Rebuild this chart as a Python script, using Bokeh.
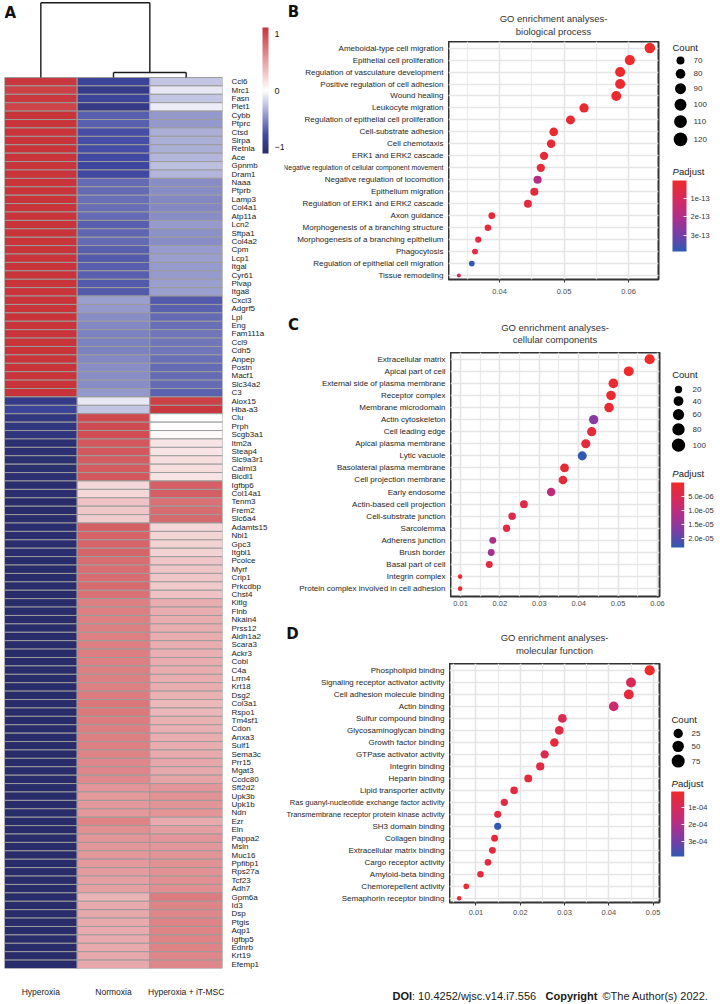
import math
from bokeh.plotting import figure
from bokeh.models import (ColumnDataSource, LinearColorMapper, ColorBar, FixedTicker, Range1d,
                          Label, PrintfTickFormatter, LinearAxis, Grid, AllLabels)
from bokeh.layouts import row, column
from bokeh.transform import transform
from bokeh.embed import file_html
from bokeh.resources import INLINE
from bokeh.core.properties import value

SANS = "Liberation Sans"
LETTER_FONT = "DejaVu Sans"

# ------------------------------------------------------------------ panel A data
samples = ["Hyperoxia", "Normoxia", "Hyperoxia + iT-MSC"]
genes = ["Ccl6", "Mrc1", "Fasn", "Plet1", "Cybb", "Ptprc", "Ctsd", "Sirpa", "Retnla", "Ace",
         "Gpnmb", "Dram1", "Naaa", "Ptprb", "Lamp3", "Col4a1", "Atp11a", "Lcn2", "Sftpa1", "Col4a2",
         "Cpm", "Lcp1", "Itgal", "Cyr61", "Plvap", "Itga8", "Cxcl3", "Adgrf5", "Lpl", "Eng",
         "Fam111a", "Ccl9", "Cdh5", "Anpep", "Postn", "Macf1", "Slc34a2", "C3", "Alox15", "Hba-a3",
         "Clu", "Prph", "Scgb3a1", "Itm2a", "Steap4", "Slc9a3r1", "Calml3", "Bicdl1", "Igfbp6", "Col14a1",
         "Tenm3", "Frem2", "Slc6a4", "Adamts15", "Nbl1", "Gpc3", "Itgbl1", "Pcolce", "Myrf", "Crip1",
         "Prkcdbp", "Chst4", "Kitlg", "Flnb", "Nkain4", "Prss12", "Aldh1a2", "Scara3", "Ackr3", "Cobl",
         "C4a", "Lrrn4", "Krt18", "Dsg2", "Col3a1", "Rspo1", "Tm4sf1", "Cdon", "Anxa3", "Sulf1",
         "Sema3c", "Prr15", "Mgat3", "Ccdc80", "Sft2d2", "Upk3b", "Upk1b", "Ndn", "Ezr", "Eln",
         "Pappa2", "Msln", "Muc16", "Ppfibp1", "Rps27a", "Tcf23", "Adh7", "Gpm6a", "Id3", "Dsp",
         "Ptgis", "Aqp1", "Igfbp5", "Ednrb", "Krt19", "Efemp1"]
z_hyperoxia = [1.10, 1.05, 1.10, 1.04, 1.15, 1.15, 1.13, 1.13, 1.13, 1.12,
               1.11, 1.12, 1.15, 1.15, 1.15, 1.15, 1.15, 1.14, 1.15, 1.15,
               1.14, 1.14, 1.14, 1.14, 1.14, 1.14, 1.14, 1.14, 1.15, 1.15,
               1.15, 1.15, 1.15, 1.15, 1.15, 1.15, 1.15, 1.14, -0.95, -0.85,
               -1.00, -1.00, -1.01, -1.07, -1.07, -1.08, -1.08, -1.07, -1.10, -1.10,
               -1.12, -1.12, -1.11, -1.10, -1.10, -1.10, -1.10, -1.12, -1.12, -1.12,
               -1.12, -1.12, -1.15, -1.15, -1.15, -1.15, -1.15, -1.15, -1.15, -1.15,
               -1.15, -1.15, -1.15, -1.15, -1.14, -1.14, -1.15, -1.15, -1.15, -1.15,
               -1.15, -1.15, -1.15, -1.15, -1.155, -1.155, -1.155, -1.155, -1.15, -1.15,
               -1.155, -1.155, -1.155, -1.155, -1.15, -1.15, -1.15, -1.14, -1.15, -1.15,
               -1.15, -1.15, -1.15, -1.15, -1.15, -1.15]
z_normoxia = [-0.85, -0.95, -0.85, -0.96, -0.70, -0.70, -0.78, -0.78, -0.78, -0.80,
              -0.83, -0.80, -0.65, -0.65, -0.63, -0.63, -0.65, -0.70, -0.67, -0.65,
              -0.70, -0.72, -0.70, -0.70, -0.72, -0.72, -0.42, -0.45, -0.50, -0.52,
              -0.55, -0.55, -0.55, -0.52, -0.50, -0.50, -0.50, -0.45, -0.10, -0.25,
              1.00, 0.99, 0.98, 0.92, 0.92, 0.90, 0.90, 0.92, 0.22, 0.22,
              0.33, 0.31, 0.28, 0.88, 0.86, 0.85, 0.85, 0.80, 0.80, 0.80,
              0.82, 0.78, 0.70, 0.70, 0.70, 0.70, 0.70, 0.70, 0.71, 0.70,
              0.70, 0.70, 0.70, 0.72, 0.75, 0.74, 0.72, 0.71, 0.70, 0.70,
              0.68, 0.66, 0.67, 0.65, 0.58, 0.56, 0.57, 0.57, 0.68, 0.62,
              0.58, 0.58, 0.57, 0.56, 0.55, 0.53, 0.53, 0.42, 0.47, 0.48,
              0.47, 0.47, 0.47, 0.47, 0.48, 0.48]
z_itmsc = [-0.25, -0.10, -0.25, -0.08, -0.45, -0.45, -0.35, -0.35, -0.35, -0.32,
           -0.28, -0.32, -0.50, -0.50, -0.52, -0.52, -0.50, -0.44, -0.48, -0.50,
           -0.44, -0.42, -0.44, -0.44, -0.42, -0.42, -0.72, -0.69, -0.65, -0.63,
           -0.60, -0.60, -0.60, -0.63, -0.65, -0.65, -0.65, -0.69, 1.05, 1.10,
           0.00, 0.01, 0.03, 0.15, 0.15, 0.18, 0.18, 0.15, 0.88, 0.88,
           0.79, 0.81, 0.83, 0.22, 0.24, 0.25, 0.25, 0.32, 0.32, 0.32,
           0.30, 0.34, 0.45, 0.45, 0.45, 0.45, 0.45, 0.45, 0.44, 0.45,
           0.45, 0.45, 0.45, 0.43, 0.39, 0.40, 0.43, 0.44, 0.45, 0.45,
           0.47, 0.49, 0.48, 0.50, 0.575, 0.595, 0.585, 0.585, 0.47, 0.53,
           0.575, 0.575, 0.585, 0.595, 0.60, 0.62, 0.62, 0.72, 0.68, 0.67,
           0.68, 0.68, 0.68, 0.68, 0.67, 0.67]
dend_merge_nt = 0.6      # Normoxia / Hyperoxia + iT-MSC merge height (row units)
dend_merge_root = 8.9    # root merge height (row units)
heat_ticks = [-1, 0, 1]

# ------------------------------------------------------------------ panel B data
bp_terms = ["Ameboidal-type cell migration", "Epithelial cell proliferation",
            "Regulation of vasculature development", "Positive regulation of cell adhesion",
            "Wound healing", "Leukocyte migration", "Regulation of epithelial cell proliferation",
            "Cell-substrate adhesion", "Cell chemotaxis", "ERK1 and ERK2 cascade",
            "Negative regulation of cellular component movement", "Negative regulation of locomotion",
            "Epithelium migration", "Regulation of ERK1 and ERK2 cascade", "Axon guidance",
            "Morphogenesis of a branching structure", "Morphogenesis of a branching epithelium",
            "Phagocytosis", "Regulation of epithelial cell migration", "Tissue remodeling"]
bp_ratio = [0.0633, 0.0602, 0.0587, 0.0587, 0.0581, 0.0531, 0.0510, 0.0484, 0.0480, 0.0469,
            0.0464, 0.0459, 0.0454, 0.0444, 0.0388, 0.0382, 0.0367, 0.0362, 0.0357, 0.0337]
bp_count = [120, 114, 111, 111, 110, 101, 97, 92, 91, 89, 88, 87, 86, 84, 74, 72, 70, 69, 68, 64]
bp_padj = [2.0e-15, 2.5e-15, 8e-15, 1.0e-14, 1.0e-14, 1.5e-14, 2.0e-14, 1.5e-14, 2.5e-14, 3.0e-14,
           3.5e-14, 1.8e-13, 4.0e-14, 4.5e-14, 3.0e-14, 3.0e-14, 5.0e-14, 5.0e-14, 3.9e-13, 8.0e-14]
bp_count_breaks = [70, 80, 90, 100, 110, 120]
bp_padj_breaks = [1e-13, 2e-13, 3e-13]
bp_padj_labels = ["1e-13", "2e-13", "3e-13"]
bp_xticks = [0.04, 0.05, 0.06]
bp_xminor = [0.035, 0.045, 0.055, 0.065]

# ------------------------------------------------------------------ panel C data
cc_terms = ["Extracellular matrix", "Apical part of cell", "External side of plasma membrane",
            "Receptor complex", "Membrane microdomain", "Actin cytoskeleton", "Cell leading edge",
            "Apical plasma membrane", "Lytic vacuole", "Basolateral plasma membrane",
            "Cell projection membrane", "Early endosome", "Actin-based cell projection",
            "Cell-substrate junction", "Sarcolemma", "Adherens junction", "Brush border",
            "Basal part of cell", "Integrin complex", "Protein complex involved in cell adhesion"]
cc_ratio = [0.0580, 0.0527, 0.0488, 0.0482, 0.0477, 0.0438, 0.0433, 0.0418, 0.0409, 0.0364,
            0.0360, 0.0330, 0.0261, 0.0231, 0.0217, 0.0182, 0.0178, 0.0173, 0.0099, 0.0099]
cc_count = [100, 91, 84, 83, 82, 75, 75, 72, 70, 63, 62, 57, 45, 40, 37, 31, 31, 30, 17, 17]
cc_padj = [1.5e-7, 3e-7, 1.0e-6, 1.0e-6, 1.5e-6, 1.6e-5, 2.0e-6, 2.5e-6, 2.32e-5, 1.5e-6,
           2.0e-6, 1.0e-5, 4.0e-6, 4.5e-6, 3.5e-6, 1.25e-5, 1.3e-5, 3.0e-6, 1.0e-6, 1.0e-6]
cc_count_breaks = [20, 40, 60, 80, 100]
cc_padj_breaks = [5e-6, 1e-5, 1.5e-5, 2e-5]
cc_padj_labels = ["5.0e-06", "1.0e-05", "1.5e-05", "2.0e-05"]
cc_xticks = [0.01, 0.02, 0.03, 0.04, 0.05, 0.06]
cc_xminor = [0.015, 0.025, 0.035, 0.045, 0.055]

# ------------------------------------------------------------------ panel D data
mf_terms = ["Phospholipid binding", "Signaling receptor activator activity",
            "Cell adhesion molecule binding", "Actin binding", "Sulfur compound binding",
            "Glycosaminoglycan binding", "Growth factor binding", "GTPase activator activity",
            "Integrin binding", "Heparin binding", "Lipid transporter activity",
            "Ras guanyl-nucleotide exchange factor activity",
            "Transmembrane receptor protein kinase activity", "SH3 domain binding",
            "Collagen binding", "Extracellular matrix binding", "Cargo receptor activity",
            "Amyloid-beta binding", "Chemorepellent activity", "Semaphorin receptor binding"]
mf_ratio = [0.0492, 0.0450, 0.0445, 0.0411, 0.0295, 0.0288, 0.0277, 0.0255, 0.0245, 0.0218,
            0.0186, 0.0164, 0.0149, 0.0149, 0.0142, 0.0137, 0.0127, 0.0110, 0.0078, 0.0062]
mf_count = [80, 73, 72, 67, 48, 47, 45, 41, 40, 35, 30, 27, 24, 24, 23, 22, 21, 18, 13, 10]
mf_padj = [5e-6, 1.0e-4, 4e-5, 1.4e-4, 9e-5, 6e-5, 4e-5, 8e-5, 6e-5, 4e-5,
           5e-5, 6e-5, 5e-5, 3.9e-4, 4e-5, 4e-5, 5e-5, 4e-5, 2e-5, 3e-5]
mf_count_breaks = [25, 50, 75]
mf_padj_breaks = [1e-4, 2e-4, 3e-4]
mf_padj_labels = ["1e-04", "2e-04", "3e-04"]
mf_xticks = [0.01, 0.02, 0.03, 0.04, 0.05]
mf_xminor = [0.005, 0.015, 0.025, 0.035, 0.045]


# ------------------------------------------------------------------ helpers
def hex_rgb(s):
    return tuple(int(s[i:i + 2], 16) for i in (1, 3, 5))


def stops_palette(stops, lo, hi, n):
    out = []
    for k in range(n):
        v = lo + (hi - lo) * k / (n - 1)
        for (v0, c0), (v1, c1) in zip(stops[:-1], stops[1:]):
            if v <= v1 or (v1, c1) == stops[-1]:
                f = min(max((v - v0) / (v1 - v0), 0), 1)
                a, b = hex_rgb(c0), hex_rgb(c1)
                out.append("#%02x%02x%02x" % tuple(round(a[j] + (b[j] - a[j]) * f) for j in range(3)))
                break
    return out


HEAT_LO, HEAT_HI = -1.12, 1.12
heat_palette = stops_palette([(-1.12, "#282C6A"), (-0.8, "#4048A2"), (0.0, "#FFFFFF"),
                              (1.12, "#C8343A")], HEAT_LO, HEAT_HI, 225)
padj_palette = stops_palette([(0.0, "#EE2A2A"), (0.25, "#D9295A"), (0.5, "#B22E88"),
                              (0.75, "#7A3EA6"), (1.0, "#2F59B2")], 0.0, 1.0, 256)


def size_scale(counts, dmin, dmax):
    lo, hi = min(counts), max(counts)
    return lambda c: dmin + (dmax - dmin) * math.sqrt(max(c - lo, 0) / (hi - lo))


def bare(fig):
    fig.outline_line_color = None
    fig.grid.visible = False
    fig.background_fill_color = "white"
    fig.border_fill_color = "white"
    return fig


# ------------------------------------------------------------------ panel A (heatmap)
n = len(genes)
row_px = 891 / n
hm = bare(figure(width=284, height=1004, x_range=Range1d(0, len(samples)),
                 y_range=Range1d(0, n + 77 / row_px),
                 x_axis_location=None, y_axis_location=None,
                 min_border_left=4, min_border_right=62, min_border_top=0, min_border_bottom=36,
                 output_backend="svg", toolbar_location=None))

heat_mapper = LinearColorMapper(palette=heat_palette, low=HEAT_LO, high=HEAT_HI)
cx, cy, cz = [], [], []
for j, col in enumerate([z_hyperoxia, z_normoxia, z_itmsc]):
    for i, v in enumerate(col):
        cx.append(j + 0.5)
        cy.append(n - i - 0.5)
        cz.append(v)
hm.rect(x="x", y="y", width=1, height=1, source=ColumnDataSource(dict(x=cx, y=cy, z=cz)),
        fill_color=transform("z", heat_mapper), line_color="#9c9c9c", line_width=1)

lx = [j + 0.5 for j in range(len(samples))]
mid_nt = (lx[1] + lx[2]) / 2
x0s = [lx[1], lx[2], lx[1], lx[0], mid_nt, lx[0]]
y0s = [n, n, n + dend_merge_nt, n, n + dend_merge_nt, n + dend_merge_root]
x1s = [lx[1], lx[2], lx[2], lx[0], mid_nt, mid_nt]
y1s = [n + dend_merge_nt, n + dend_merge_nt, n + dend_merge_nt, n + dend_merge_root,
       n + dend_merge_root, n + dend_merge_root]
hm.segment(x0=x0s, y0=y0s, x1=x1s, y1=y1s, line_color="#1a1a1a", line_width=1.4)

gene_ticks = [n - i - 0.5 for i in range(n)]
gax = LinearAxis(ticker=FixedTicker(ticks=gene_ticks),
                 major_label_overrides={t: g for t, g in zip(gene_ticks, genes)})
gax.axis_line_color = None
gax.major_tick_line_color = None
gax.minor_tick_line_color = None
gax.major_label_standoff = 3
gax.major_label_text_font = SANS
gax.major_label_text_font_size = "8px"
gax.major_label_text_color = "#1a1a1a"
hm.add_layout(gax, "right")

sax = LinearAxis(ticker=FixedTicker(ticks=lx),
                 major_label_overrides={t: s for t, s in zip(lx, samples)})
sax.axis_line_color = None
sax.major_tick_line_color = None
sax.minor_tick_line_color = None
sax.major_label_standoff = 12
sax.major_label_text_font = SANS
sax.major_label_text_font_size = "8.5px"
sax.major_label_text_color = "#1a1a1a"
hm.add_layout(sax, "below")

hcb = ColorBar(color_mapper=heat_mapper, location=(258, 815), width=6, height=126, padding=0,
               ticker=FixedTicker(ticks=heat_ticks), label_standoff=6,
               major_label_policy=AllLabels(),
               major_label_text_font=SANS, major_label_text_font_size="9px",
               major_label_text_color="#1a1a1a", major_tick_line_color=None,
               bar_line_color=None, border_line_color=None, background_fill_alpha=0)
hm.add_layout(hcb, "center")
hm.add_layout(Label(x=0, y=956, x_units="screen", y_units="screen", text="A",
                    text_font=LETTER_FONT, text_font_style="bold", text_font_size="15px",
                    text_baseline="middle", text_align="left", text_color="#111111"))

RIGHT_W = 436


# ------------------------------------------------------------------ panels B-D
def panel(terms, ratio, count, padj, xticks, xminor, title, letter, count_breaks,
          pbreaks, plabels, *, x_range, y_range, head_h, height, bb, label_w, plot_w, frame_r,
          dsize, title_y, letter_xy, tick_out, xlab_standoff, leg):
    k = len(terms)
    yv = [k - 1 - i for i in range(k)]
    yr = Range1d(*y_range)
    frame_h = height - bb
    mapper = LinearColorMapper(palette=padj_palette, low=min(padj), high=max(padj))
    sfun = size_scale(count, *dsize)
    common = dict(height=height, min_border_top=0, min_border_bottom=bb,
                  output_backend="svg", toolbar_location=None)

    # --- header strip: panel letter and two-line title (y = px from the top)
    head = bare(figure(width=RIGHT_W, height=head_h, x_range=Range1d(0, RIGHT_W),
                       y_range=Range1d(head_h, 0), x_axis_location=None, y_axis_location=None,
                       min_border=0, output_backend="svg", toolbar_location=None))
    head.text(x=[letter_xy[0]], y=[letter_xy[1]], text=[letter], text_font=value(LETTER_FONT),
              text_font_size="15px", text_font_style="bold", text_align="center",
              text_baseline="middle", text_color="#111111")
    title_x = label_w + (plot_w - frame_r) / 2
    head.text(x=[title_x] * 2, y=list(title_y), text=title.split("\n"), text_font=value(SANS),
              text_font_size="9.5px", text_align="center", text_baseline="middle",
              text_color="#333333")

    # --- term labels (own figure, sharing the y range of the dot plot)
    lab = bare(figure(width=label_w, x_range=Range1d(0, label_w), y_range=yr,
                      x_axis_location=None, y_axis_location=None,
                      min_border_left=0, min_border_right=0, **common))
    avail = label_w - 6
    fs = ["%.2fpx" % min(8.0, avail / (0.46 * len(t))) for t in terms]
    lab.text(x=[label_w - 5] * k, y=yv, text=terms, text_font=value(SANS),
             text_font_size=fs, text_align="right", text_baseline="middle",
             text_color="#262626")

    # --- dot plot
    p = figure(width=plot_w, x_range=Range1d(*x_range), y_range=yr,
               y_axis_location=None, min_border_left=0, min_border_right=frame_r, **common)
    p.outline_line_color = "#333333"
    p.outline_line_width = 2
    p.background_fill_color = "white"

    p.xaxis.ticker = FixedTicker(ticks=xticks, minor_ticks=xminor)
    p.xaxis.formatter = PrintfTickFormatter(format="%.2f")
    p.xaxis.axis_line_color = None
    p.xaxis.major_tick_line_color = "#333333"
    p.xaxis.major_tick_out = tick_out
    p.xaxis.major_tick_in = 0
    p.xaxis.minor_tick_line_color = None
    p.xaxis.major_label_standoff = xlab_standoff
    p.xaxis.major_label_text_font = SANS
    p.xaxis.major_label_text_font_size = "7.5px"
    p.xaxis.major_label_text_color = "#4d4d4d"
    p.xgrid.grid_line_color = "#e5e5e5"
    p.xgrid.grid_line_width = 1.6
    p.xgrid.minor_grid_line_color = "#ebebeb"
    p.xgrid.minor_grid_line_width = 1.2
    p.add_layout(Grid(dimension=1, ticker=FixedTicker(ticks=yv), grid_line_color="#e5e5e5",
                      grid_line_width=1.6))

    src = ColumnDataSource(dict(x=ratio, y=yv, p=padj, s=[sfun(c) for c in count]))
    p.scatter(x="x", y="y", size="s", source=src, fill_color=transform("p", mapper),
              line_color=None)

    # --- legends (own figure, y = px below the frame top)
    lf = bare(figure(width=RIGHT_W - label_w - plot_w, x_range=Range1d(0, 54),
                     y_range=Range1d(frame_h, 0),
                     x_axis_location=None, y_axis_location=None,
                     min_border_left=0, min_border_right=0, **common))
    ds = [sfun(b) * leg["scale"] for b in count_breaks]
    ys = []
    yy = leg["dot_y"]
    for i, d in enumerate(ds):
        if i:
            yy += (ds[i - 1] + d) / 2 + leg["gap"]
        ys.append(yy)
    lf.scatter(x=[leg["dot_x"]] * len(ds), y=ys, size=ds, fill_color="black", line_color=None)
    lf.text(x=[leg["lab_x"]] * len(ds), y=ys, text=[str(b) for b in count_breaks],
            text_font=value(SANS), text_font_size="8px", text_baseline="middle",
            text_align="left", text_color="#333333")
    lf.text(x=[leg["x"]], y=[leg["count_y"]], text=["Count"], text_font=value(SANS),
            text_font_size="9.5px", text_baseline="middle", text_align="left",
            text_color="#222222")
    lf.text(x=[leg["x"]], y=[leg["padj_y"]], text=["P"], text_font=value(SANS),
            text_font_size="9.5px", text_font_style="italic", text_baseline="middle",
            text_align="left", text_color="#222222")
    lf.text(x=[leg["x"] + 6.5], y=[leg["padj_y"]], text=["adjust"], text_font=value(SANS),
            text_font_size="9.5px", text_baseline="middle", text_align="left",
            text_color="#222222")
    bar_mapper = LinearColorMapper(palette=list(reversed(padj_palette)),
                                   low=-max(padj), high=-min(padj))
    cb = ColorBar(color_mapper=bar_mapper,
                  location=(leg["bar_x"], frame_h - leg["bar_top"] - leg["bar_len"]),
                  width=leg["bar_w"], height=leg["bar_len"], padding=0,
                  ticker=FixedTicker(ticks=[-b for b in pbreaks]),
                  major_label_overrides={-b: l for b, l in zip(pbreaks, plabels)},
                  major_label_policy=AllLabels(),
                  label_standoff=4, major_label_text_font=SANS,
                  major_label_text_font_size="7.5px", major_label_text_color="#333333",
                  major_tick_line_color="white", major_tick_in=3, major_tick_out=0,
                  bar_line_color=None, border_line_color=None, background_fill_alpha=0)
    lf.add_layout(cb, "center")
    return column(head, row(lab, p, lf))


panelB = panel(bp_terms, bp_ratio, bp_count, bp_padj, bp_xticks, bp_xminor,
               "GO enrichment analyses-\nbiological process", "B", bp_count_breaks,
               bp_padj_breaks, bp_padj_labels,
               x_range=(0.03209, 0.06465), y_range=(-0.33, 19.55), head_h=41, height=275, bb=37,
               label_w=164, plot_w=218, frame_r=8, dsize=(4.0, 10.5),
               title_y=(18, 31), letter_xy=(9, 11), tick_out=3, xlab_standoff=5,
               leg=dict(scale=1.3, x=6, count_y=5.5, dot_x=14, lab_x=27, dot_y=19, gap=4.5,
                        padj_y=130, bar_x=6, bar_w=14, bar_top=139, bar_len=71))
panelC = panel(cc_terms, cc_ratio, cc_count, cc_padj, cc_xticks, cc_xminor,
               "GO enrichment analyses-\ncellular components", "C", cc_count_breaks,
               cc_padj_breaks, cc_padj_labels,
               x_range=(0.00746, 0.06051), y_range=(-0.65, 19.56), head_h=36, height=272, bb=28,
               label_w=166, plot_w=216, frame_r=7, dsize=(4.6, 10.2),
               title_y=(11, 23), letter_xy=(9, 8), tick_out=1, xlab_standoff=0,
               leg=dict(scale=1.3, x=5.7, count_y=22, dot_x=12, lab_x=26, dot_y=37, gap=3.0,
                        padj_y=121, bar_x=4.7, bar_w=13, bar_top=130, bar_len=65))
panelD = panel(mf_terms, mf_ratio, mf_count, mf_padj, mf_xticks, mf_xminor,
               "GO enrichment analyses-\nmolecular function", "D", mf_count_breaks,
               mf_padj_breaks, mf_padj_labels,
               x_range=(0.00402, 0.05143), y_range=(-0.35, 19.58), head_h=39, height=325, bb=86,
               label_w=165, plot_w=217, frame_r=7, dsize=(4.5, 10.2),
               title_y=(13, 26), letter_xy=(8, 9), tick_out=3, xlab_standoff=3,
               leg=dict(scale=1.3, x=5, count_y=56, dot_x=11.7, lab_x=25, dot_y=70, gap=2.5,
                        padj_y=120, bar_x=4.7, bar_w=13, bar_top=128, bar_len=65))

# ------------------------------------------------------------------ footer
foot = bare(figure(width=RIGHT_W, height=16, x_range=Range1d(0, 1), y_range=Range1d(0, 1),
                   x_axis_location=None, y_axis_location=None, min_border=0,
                   output_backend="svg", toolbar_location=None))
for fx, txt, style in [(108, "DOI", "bold"), (127.5, ": 10.4252/wjsc.v14.i7.556", "normal"),
                       (261, "Copyright", "bold"), (318, "\u00a9The Author(s) 2022.", "normal")]:
    foot.add_layout(Label(x=fx, y=9, x_units="screen", y_units="screen", text=txt,
                          text_font=SANS, text_font_style=style, text_font_size="11px",
                          text_baseline="middle", text_align="left", text_color="#1a1a1a"))

layout = row(hm, column(panelB, panelC, panelD, foot))
open("out.html", "w").write(file_html(layout, INLINE))
